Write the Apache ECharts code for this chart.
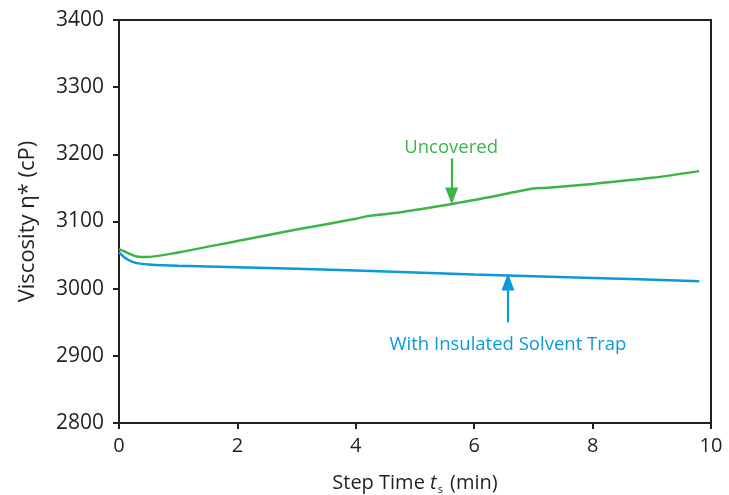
<!DOCTYPE html>
<html><head><meta charset="utf-8">
<script src="https://cdn.jsdelivr.net/npm/echarts@6/dist/echarts.min.js"></script>
<style>html,body{margin:0;padding:0;background:#fff}#c{width:729px;height:495px}</style>
</head><body><div id="c"></div>
<script>
const xTicks = [0, 2, 4, 6, 8, 10];
const yTicks = [2800, 2900, 3000, 3100, 3200, 3300, 3400];
const uncoveredT = [0, 0.1, 0.2, 0.3, 0.45, 1, 2, 3, 4, 4.2, 4.7, 5, 6, 7, 7.2, 8, 9, 9.8];
const uncoveredV = [3059, 3055, 3051, 3048, 3047, 3054, 3071, 3088, 3104, 3108, 3113, 3117, 3132, 3149, 3150, 3156, 3165, 3175];
const trapT = [0, 0.1, 0.2, 0.3, 0.5, 1, 2, 4, 6, 8, 9.8];
const trapV = [3054, 3046, 3041, 3038, 3036, 3034, 3032, 3027, 3021, 3016, 3011];
const labelUncovered = 'Uncovered';
const labelTrap = 'With Insulated Solvent Trap';
const arrowUncovered = [[5.62, 3194], [5.62, 3138]];
const arrowTrap = [[6.57, 2950], [6.57, 3010]];
const textUncoveredPos = [5.61, 3210];
const textTrapPos = [6.57, 2916];

const green = '#3db449';
const blue = '#0b9ad8';
const font = '"Open Sans", sans-serif';
const ink = '#231f20';

const chart = echarts.init(document.getElementById('c'));
const zip = (a, b) => a.map((t, i) => [t, b[i]]);
chart.setOption({
  animation: false,
  grid: { left: 119, right: 18, top: 20, bottom: 72, show: true, borderColor: ink, borderWidth: 2,
          containLabel: false, outerBoundsMode: 'none' },
  xAxis: {
    type: 'value', min: xTicks[0], max: xTicks[xTicks.length - 1], interval: xTicks[1] - xTicks[0],
    name: '{a|Step Time }{i|t}{s|s}{a| (min)}', nameLocation: 'middle', nameGap: 48,
    nameTextStyle: { rich: {
      a: { fontSize: 20, color: ink, fontFamily: font },
      i: { fontSize: 20, color: ink, fontFamily: font, fontStyle: 'italic' },
      s: { fontSize: 11, color: ink, fontFamily: font, padding: [13, 2, 0, 1] }
    } },
    axisLine: { lineStyle: { color: ink, width: 2 } },
    axisTick: { lineStyle: { color: ink, width: 2 }, length: 6 },
    axisLabel: { color: ink, fontSize: 20, fontFamily: font, margin: 13 },
    splitLine: { show: false }
  },
  yAxis: {
    type: 'value', min: yTicks[0], max: yTicks[yTicks.length - 1], interval: yTicks[1] - yTicks[0],
    name: 'Viscosity η* (cP)', nameLocation: 'middle', nameGap: 80,
    nameTextStyle: { fontSize: 22, color: ink, fontFamily: font },
    axisLine: { show: true, lineStyle: { color: ink, width: 2 } },
    axisTick: { show: true, lineStyle: { color: ink, width: 2 }, length: 6 },
    axisLabel: { color: ink, fontSize: 21, fontFamily: font, margin: 15, formatter: v => String(v) },
    splitLine: { show: false }
  },
  series: [
    {
      type: 'line', data: zip(uncoveredT, uncoveredV), showSymbol: false, smooth: 0.3,
      lineStyle: { color: green, width: 2.5 }, itemStyle: { color: green },
      markLine: {
        silent: true, symbol: ['none', 'triangle'], symbolSize: [13, 17],
        lineStyle: { color: green, width: 2.2, type: 'solid' }, label: { show: false },
        data: [[{ coord: arrowUncovered[0] }, { coord: arrowUncovered[1] }]]
      },
      markPoint: {
        symbol: 'circle', symbolSize: 0,
        label: { show: true, formatter: labelUncovered, color: green, fontSize: 18.5, fontFamily: font },
        data: [{ coord: textUncoveredPos }]
      }
    },
    {
      type: 'line', data: zip(trapT, trapV), showSymbol: false, smooth: 0.3,
      lineStyle: { color: blue, width: 2.5 }, itemStyle: { color: blue },
      markLine: {
        silent: true, symbol: ['none', 'triangle'], symbolSize: [13, 17],
        lineStyle: { color: blue, width: 2.2, type: 'solid' }, label: { show: false },
        data: [[{ coord: arrowTrap[0] }, { coord: arrowTrap[1] }]]
      },
      markPoint: {
        symbol: 'circle', symbolSize: 0,
        label: { show: true, formatter: labelTrap, color: blue, fontSize: 18.5, fontFamily: font },
        data: [{ coord: textTrapPos }]
      }
    }
  ]
});
</script></body></html>
